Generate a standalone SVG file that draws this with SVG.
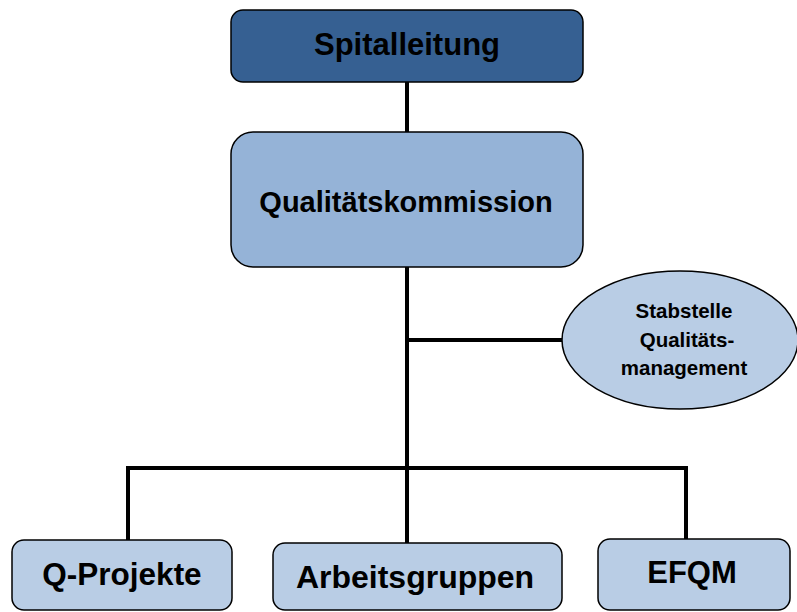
<svg xmlns="http://www.w3.org/2000/svg" width="797" height="612" viewBox="0 0 797 612">
<style>
.box{stroke:#000;stroke-width:1.5}
.t{font-family:"Liberation Sans",Arial,sans-serif;font-weight:bold;fill:#000;text-anchor:middle}
.c{stroke:#000;stroke-width:4;fill:none}
</style>
<rect width="797" height="612" fill="#fff"/>
<g id="connectors">
<line class="c" x1="407" y1="82" x2="407" y2="132"/>
<line class="c" x1="407" y1="267" x2="407" y2="543"/>
<line class="c" x1="407" y1="340" x2="563" y2="340"/>
<polyline class="c" points="128,540 128,468 686,468 686,539"/>
</g>
<g id="spitalleitung">
<rect class="box" x="231" y="10" width="352" height="72" rx="12" fill="#366092"/>
<text class="t" x="407" y="55" font-size="31">Spitalleitung</text>
</g>
<g id="qualitaetskommission">
<rect class="box" x="231" y="132" width="352" height="135" rx="22" fill="#95b3d7"/>
<text class="t" x="406" y="212" font-size="29">Qualitätskommission</text>
</g>
<g id="stabstelle">
<ellipse class="box" cx="680" cy="340" rx="118" ry="69" fill="#b9cde5"/>
<text class="t" x="684" y="318" font-size="20.5">Stabstelle</text>
<text class="t" x="687" y="347" font-size="20.5">Qualitäts-</text>
<text class="t" x="684" y="375" font-size="20.5">management</text>
</g>
<g id="qprojekte">
<rect class="box" x="12" y="540" width="220" height="70" rx="12" fill="#b9cde5"/>
<text class="t" x="122" y="585" font-size="31.5">Q-Projekte</text>
</g>
<g id="arbeitsgruppen">
<rect class="box" x="273" y="543" width="289" height="67" rx="12" fill="#b9cde5"/>
<text class="t" x="415" y="588" font-size="32">Arbeitsgruppen</text>
</g>
<g id="efqm">
<rect class="box" x="598" y="539" width="192" height="71" rx="12" fill="#b9cde5"/>
<text class="t" x="692" y="583" font-size="31">EFQM</text>
</g>
</svg>
